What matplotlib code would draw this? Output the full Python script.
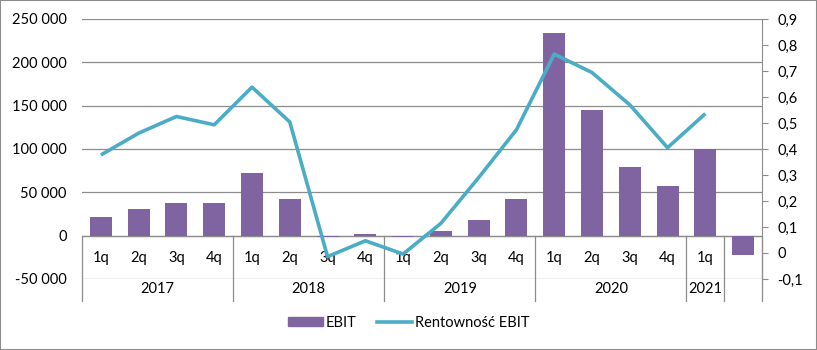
import matplotlib.pyplot as plt
import matplotlib.transforms as mtransforms
from matplotlib.patches import Rectangle, Patch
from matplotlib.lines import Line2D
import numpy as np

plt.rcParams['font.family'] = ['Lato', 'DejaVu Sans']
plt.rcParams['font.size'] = 10

# data
quarters = ['1q', '2q', '3q', '4q', '1q', '2q', '3q', '4q', '1q', '2q', '3q', '4q',
            '1q', '2q', '3q', '4q', '1q', '']
years = ['2017', '2018', '2019', '2020', '2021', '']
year_sizes = [4, 4, 4, 4, 1, 1]
ebit = [22000, 31000, 38000, 38000, 72000, 42000, -1500, 1500, -1500, 5500, 18500, 42500,
        234000, 145500, 79500, 57500, 100500, -22000]
margin = [0.377, 0.461, 0.525, 0.493, 0.638, 0.504, -0.014, 0.047, -0.004, 0.114, 0.29, 0.474,
          0.765, 0.694, 0.570, 0.405, 0.536, np.nan]

purple = '#8064A2'
aqua = '#4BACC6'
grey = '#8C8C8C'

fig = plt.figure(figsize=(8.17, 3.5), dpi=100)
ax = fig.add_axes([82/817, 71/350, 680/817, 260/350])
x = np.arange(len(ebit))

ax.bar(x, ebit, width=0.58, color=purple, zorder=3)
ax.set_xlim(-0.5, len(ebit) - 0.5)
ax.set_ylim(-50000, 250000)
ax.set_yticks(range(-50000, 250001, 50000))
ax.set_yticklabels([f'{v:,}'.replace(',', ' ') for v in range(-50000, 250001, 50000)])
ax.yaxis.grid(True, color=grey, lw=0.9, zorder=0)
ax.set_xticks([])
ax.tick_params(axis='y', length=0, pad=11, labelsize=10.5)
for s in ax.spines.values():
    s.set_visible(False)

# category axis
trans = mtransforms.blended_transform_factory(ax.transData, ax.transAxes)
ax.axhline(0, color=grey, lw=0.9, zorder=2)
for i, q in enumerate(quarters):
    ax.text(i, 0.081, q, transform=trans, ha='center', va='center', fontsize=10.5)
pos = -0.5
seps = [pos]
for name, n in zip(years, year_sizes):
    ax.text(pos + n / 2, -0.038, name, transform=trans, ha='center', va='center', fontsize=10.5)
    pos += n
    seps.append(pos)
for s in seps:
    ax.plot([s, s], [1/6, -0.085], transform=trans, color=grey, lw=0.9, clip_on=False)

ax2 = ax.twinx()
ax2.plot(x, margin, color=aqua, lw=2.6, solid_capstyle='butt')
ax2.set_ylim(-0.1, 0.9)
rt = np.round(np.arange(-0.1, 0.91, 0.1), 1)
ax2.set_yticks(rt)
ax2.set_yticklabels([('0' if v == 0 else f'{v:.1f}'.replace('.', ',')) for v in rt])
ax2.tick_params(axis='y', direction='out', length=4, color=grey, pad=7, labelsize=10.5)
for k, s in ax2.spines.items():
    s.set_visible(k == 'right')
ax2.spines['right'].set_color(grey)
ax2.spines['right'].set_bounds(-0.1, 0.9)

handles = [Patch(color=purple), Line2D([], [], color=aqua, lw=2.6)]
fig.legend(handles, ['EBIT', 'Rentowność EBIT'], loc='center', bbox_to_anchor=(0.5, 27/350),
           ncol=2, frameon=False, fontsize=10.5, handlelength=2.4, handleheight=0.6,
           handletextpad=0.2, columnspacing=1.4)

fig.patches.append(Rectangle((0, 0), 1, 1, transform=fig.transFigure, fill=False,
                             edgecolor=grey, lw=1.5))

fig.savefig('out.png', dpi=100)
